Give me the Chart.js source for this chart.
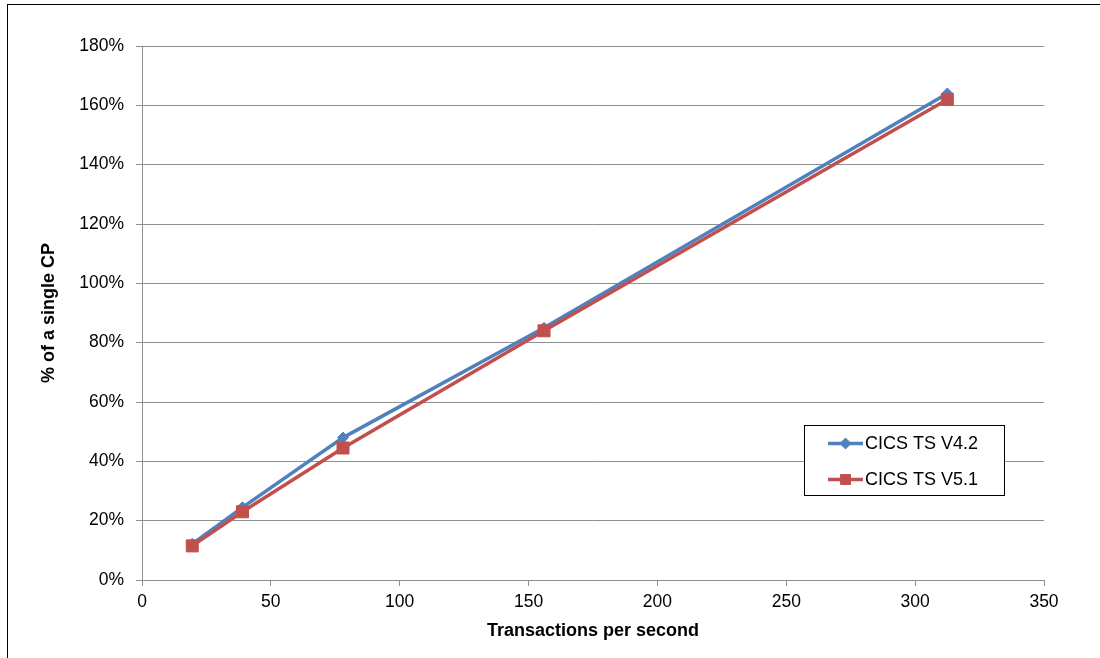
<!DOCTYPE html>
<html>
<head>
<meta charset="utf-8">
<script src="https://cdn.jsdelivr.net/npm/chart.js@4"></script>
<style>
  html, body { margin: 0; padding: 0; background: #fff; overflow: hidden; }
  #wrap { position: relative; width: 1100px; height: 658px; }
  #frame { position: absolute; left: 7px; top: 4px; width: 1200px; height: 1000px;
           border: 1px solid #000; pointer-events: none; }
</style>
</head>
<body>
<div id="wrap">
  <canvas id="myChart" width="1100" height="658"></canvas>
  <div id="frame"></div>
</div>
<script>
const tps = [19.5, 39, 78, 156, 312.5];
const cicsV42 = [12.2, 24.5, 48.0, 85.0, 164.0];
const cicsV51 = [11.5, 23.0, 44.5, 84.0, 162.0];
const seriesNames = ['CICS TS V4.2', 'CICS TS V5.1'];

const blue = '#4F81BD';
const red = '#C0504D';
const gridColor = '#8f8f8f';

function toPoints(values) {
    return tps.map((x, i) => ({ x: x, y: values[i] }));
}

// legend box drawn inside the plot, like the original
const boxLegend = {
    id: 'boxLegend',
    afterDraw(chart) {
        const ctx = chart.ctx;
        const left = 804.5, top = 425.5, width = 200, height = 70;
        ctx.save();
        ctx.fillStyle = '#fff';
        ctx.fillRect(left, top, width, height);
        ctx.strokeStyle = '#000';
        ctx.lineWidth = 1;
        ctx.strokeRect(left, top, width, height);

        chart.data.datasets.forEach((ds, i) => {
            const y = top + 18 + i * 36;
            ctx.strokeStyle = ds.borderColor;
            ctx.lineWidth = 3.5;
            ctx.beginPath();
            ctx.moveTo(828, y);
            ctx.lineTo(863, y);
            ctx.stroke();
            ctx.fillStyle = ds.backgroundColor;
            ctx.strokeStyle = ds.borderColor;
            ctx.lineWidth = 1;
            Chart.helpers.drawPoint(ctx, {
                pointStyle: ds.pointStyle,
                radius: ds.pointStyle === 'rect' ? 7 : 5.5,
                borderWidth: 1
            }, 845.5, y);
            ctx.fillStyle = '#000';
            ctx.font = '18px "Liberation Sans", Arial, sans-serif';
            ctx.textBaseline = 'middle';
            ctx.textAlign = 'left';
            ctx.fillText(ds.label, 865, y + 1);
        });
        ctx.restore();
    }
};

const ctx = document.getElementById('myChart').getContext('2d');
const myChart = new Chart(ctx, {
    type: 'line',
    data: {
        datasets: [{
            label: seriesNames[0],
            data: toPoints(cicsV42),
            borderColor: blue,
            backgroundColor: blue,
            borderWidth: 3.5,
            pointStyle: 'rectRot',
            pointRadius: 5.5,
            pointBorderWidth: 1,
            order: 1,
            fill: false
        }, {
            label: seriesNames[1],
            data: toPoints(cicsV51),
            borderColor: red,
            backgroundColor: red,
            borderWidth: 3.5,
            pointStyle: 'rect',
            pointRadius: 8.5,
            pointBorderWidth: 1,
            order: 0,
            fill: false
        }]
    },
    options: {
        responsive: false,
        animation: false,
        layout: { padding: { left: 0, top: 46, right: 56, bottom: 0 } },
        plugins: {
            legend: { display: false },
            tooltip: { enabled: false }
        },
        scales: {
            x: {
                type: 'linear',
                min: 0,
                max: 350,
                afterFit(scale) { scale.height = 78; },
                ticks: {
                    stepSize: 50,
                    padding: 6,
                    color: '#000',
                    maxRotation: 0,
                    font: { family: '"Liberation Sans", Arial, sans-serif', size: 17.5 }
                },
                grid: {
                    drawOnChartArea: false,
                    drawTicks: true,
                    tickLength: 6,
                    color: gridColor
                },
                border: { color: gridColor, width: 1 },
                title: {
                    display: true,
                    text: 'Transactions per second',
                    color: '#000',
                    padding: { top: 0, bottom: 16 },
                    font: { family: '"Liberation Sans", Arial, sans-serif', size: 18, weight: 'bold' }
                }
            },
            y: {
                min: 0,
                max: 180,
                afterFit(scale) { scale.width = 142; },
                ticks: {
                    stepSize: 20,
                    padding: 12,
                    color: '#000',
                    callback: v => v + '%',
                    font: { family: '"Liberation Sans", Arial, sans-serif', size: 17.5 }
                },
                grid: {
                    drawTicks: true,
                    tickLength: 6,
                    color: gridColor
                },
                border: { color: gridColor, width: 1 },
                title: {
                    display: true,
                    text: '% of a single CP',
                    color: '#000',
                    padding: { top: 38, bottom: 0 },
                    font: { family: '"Liberation Sans", Arial, sans-serif', size: 18, weight: 'bold' }
                }
            }
        }
    },
    plugins: [boxLegend]
});
</script>
</body>
</html>
